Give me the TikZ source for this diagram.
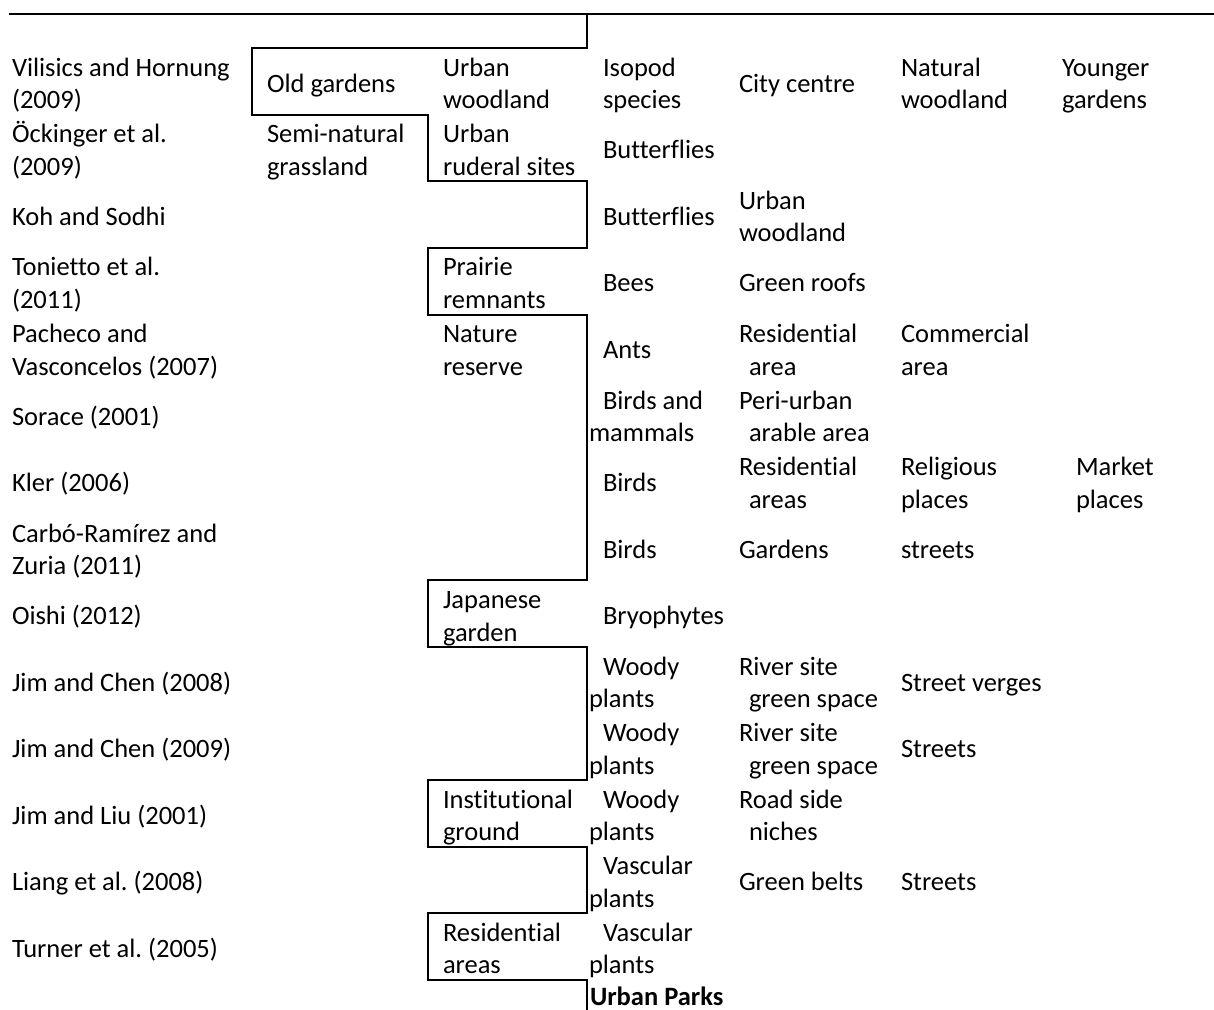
\documentclass[tikz,border=0pt]{standalone}
\usepackage{fontspec}
\setmainfont{Carlito}[Ligatures=NoCommon]
\begin{document}
\frenchspacing
\begin{tikzpicture}[x=0.5pt,y=-0.5pt,
  txt/.style={anchor=base west,inner sep=0pt,outer sep=0pt,font=\fontsize{13.25}{16}\selectfont},
  rule/.style={line width=1pt,line cap=rect},
]
\useasboundingbox (0,0) rectangle (1214,1010);
\newcommand\cellA[4]{\node[txt] (#1) at (#2, 48+66.5*#3+44.5) {#4};}
\newcommand\cellB[6]{\node[txt] (#1a) at (#2, 48+66.5*#4+28.5) {#5};
  \node[txt] (#1b) at (#3, 48+66.5*#4+61) {#6};}
% rules
\coordinate (tl) at (10,14);
\coordinate (tr) at (1214,14);
\draw[rule] (tl) -- (tr);
\coordinate (s0) at (587,14);
\coordinate (s1) at (587,1010);
\draw[rule,line cap=butt] (s0) -- (587,48) -- (252,48) -- (252,115) -- (428,115) -- (428,181.5)
  -- (587,181.5) -- (587,248) -- (428,248) -- (428,315) -- (587,315) -- (587,580)
  -- (428,580) -- (428,647) -- (587,647) -- (587,780) -- (428,780) -- (428,847)
  -- (587,847) -- (587,913) -- (428,913) -- (428,980) -- (587,980) -- (s1);
% column 1
\cellB{r0c1}{12}{12}{0}{Vilisics and Hornung}{(2009)}
\cellB{r1c1}{12}{12}{1}{Öckinger et al.}{(2009)}
\cellA{r2c1}{12}{2}{Koh and Sodhi}
\cellB{r3c1}{12}{12}{3}{Tonietto et al.}{(2011)}
\cellB{r4c1}{12}{12}{4}{Pacheco and}{Vasconcelos (2007)}
\cellA{r5c1}{12}{5}{Sorace (2001)}
\cellA{r6c1}{12}{6}{Kler (2006)}
\cellB{r7c1}{12}{12}{7}{Carbó-Ramírez and}{Zuria (2011)}
\cellA{r8c1}{12}{8}{Oishi (2012)}
\cellA{r9c1}{12}{9}{Jim and Chen (2008)}
\cellA{r10c1}{12}{10}{Jim and Chen (2009)}
\cellA{r11c1}{12}{11}{Jim and Liu (2001)}
\cellA{r12c1}{12}{12}{Liang et al. (2008)}
\cellA{r13c1}{12}{13}{Turner et al. (2005)}
% column 2
\cellA{r0c2}{267}{0}{Old gardens}
\cellB{r1c2}{267}{267}{1}{Semi-natural}{grassland}
% column 3
\cellB{r0c3}{443}{443}{0}{Urban}{woodland}
\cellB{r1c3}{443}{443}{1}{Urban}{ruderal sites}
\cellB{r3c3}{443}{443}{3}{Prairie}{remnants}
\cellB{r4c3}{443}{443}{4}{Nature}{reserve}
\cellB{r8c3}{443}{443}{8}{Japanese}{garden}
\cellB{r11c3}{443}{443}{11}{Institutional}{ground}
\cellB{r13c3}{443}{443}{13}{Residential}{areas}
% column 4
\cellB{r0c4}{603}{603}{0}{Isopod}{species}
\cellA{r1c4}{603}{1}{Butterflies}
\cellA{r2c4}{603}{2}{Butterflies}
\cellA{r3c4}{603}{3}{Bees}
\cellA{r4c4}{603}{4}{Ants}
\cellB{r5c4}{603}{589}{5}{Birds and}{mammals}
\cellA{r6c4}{603}{6}{Birds}
\cellA{r7c4}{603}{7}{Birds}
\cellA{r8c4}{603}{8}{Bryophytes}
\cellB{r9c4}{603}{589}{9}{Woody}{plants}
\cellB{r10c4}{603}{589}{10}{Woody}{plants}
\cellB{r11c4}{603}{589}{11}{Woody}{plants}
\cellB{r12c4}{603}{589}{12}{Vascular}{plants}
\cellB{r13c4}{603}{589}{13}{Vascular}{plants}
\node[txt,font=\fontsize{13.25}{16}\selectfont\bfseries] (up) at (590,1005) {Urban Parks};
% column 5
\cellA{r0c5}{739}{0}{City centre}
\cellB{r2c5}{739}{739}{2}{Urban}{woodland}
\cellA{r3c5}{739}{3}{Green roofs}
\cellB{r4c5}{739}{749}{4}{Residential}{area}
\cellB{r5c5}{739}{749}{5}{Peri-urban}{arable area}
\cellB{r6c5}{739}{749}{6}{Residential}{areas}
\cellA{r7c5}{739}{7}{Gardens}
\cellB{r9c5}{739}{749}{9}{River site}{green space}
\cellB{r10c5}{739}{749}{10}{River site}{green space}
\cellB{r11c5}{739}{749}{11}{Road side}{niches}
\cellA{r12c5}{739}{12}{Green belts}
% column 6
\cellB{r0c6}{901}{901}{0}{Natural}{woodland}
\cellB{r4c6}{901}{901}{4}{Commercial}{area}
\cellB{r6c6}{901}{901}{6}{Religious}{places}
\cellA{r7c6}{901}{7}{streets}
\cellA{r9c6}{901}{9}{Street verges}
\cellA{r10c6}{901}{10}{Streets}
\cellA{r12c6}{901}{12}{Streets}
% column 7
\cellB{r0c7}{1062}{1062}{0}{Younger}{gardens}
\cellB{r6c7}{1076}{1076}{6}{Market}{places}
\end{tikzpicture}
\end{document}
